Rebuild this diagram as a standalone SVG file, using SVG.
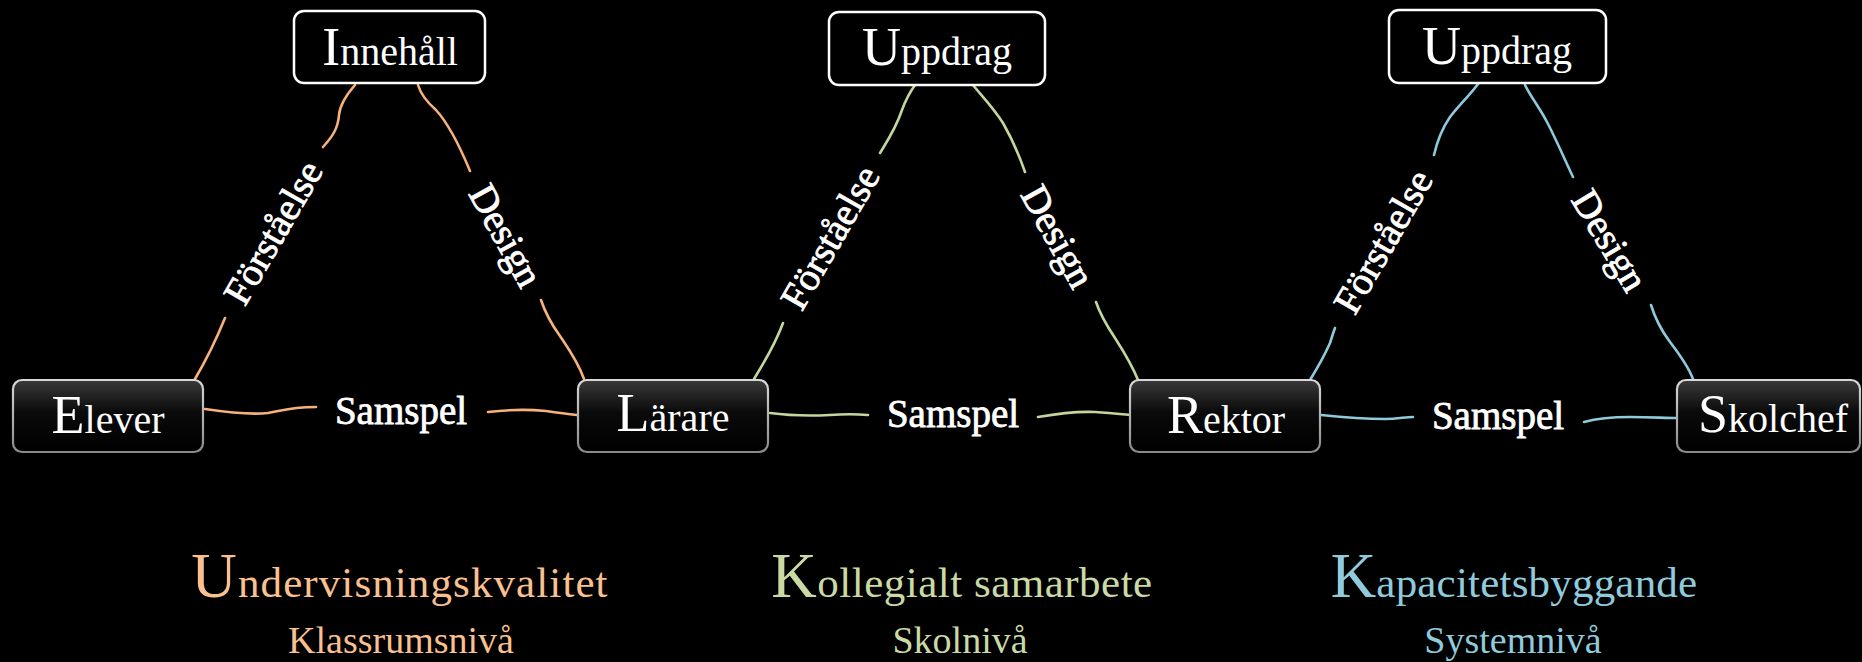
<svg xmlns="http://www.w3.org/2000/svg" width="1862" height="662" viewBox="0 0 1862 662">
<defs>
<linearGradient id="nodeGrad" x1="0" y1="0" x2="0" y2="1">
<stop offset="0" stop-color="#3a3a3a"/>
<stop offset="0.45" stop-color="#0a0a0a"/>
<stop offset="1" stop-color="#000"/>
</linearGradient>
<linearGradient id="strokeGrad" x1="0" y1="0" x2="0" y2="1">
<stop offset="0" stop-color="#d8d8d8"/>
<stop offset="1" stop-color="#8a8a8a"/>
</linearGradient>
</defs>
<style>
.top rect{fill:#000;stroke:#fff;stroke-width:2.5}
.bot rect{fill:url(#nodeGrad);stroke:url(#strokeGrad);stroke-width:2.2}
.nt{font-family:"Liberation Serif",serif;fill:#fff;text-anchor:middle;font-size:40px}
.nt .c{font-size:54px}
.el{font-family:"Liberation Serif",serif;fill:#fff;stroke:#fff;stroke-width:0.8;text-anchor:middle;font-size:39px}
.o{stroke:#F7B27C}
.g{stroke:#C3D69B}
.b{stroke:#8ECADB}
#connectors path{fill:none;stroke-width:2.6;stroke-linecap:round}
.tt{font-family:"Liberation Serif",serif;text-anchor:middle;font-size:43px}
.tt .c{font-size:63px}
.st{font-family:"Liberation Serif",serif;text-anchor:middle;font-size:38px}
.fo{fill:#FAC090}
.fg{fill:#C9DAA4}
.fb{fill:#8FCBDC}
</style>
<rect x="0" y="0" width="1862" height="662" fill="#000"/>
<g id="connectors">
<path class="o" d="M195,379 C205,362 214,345 225,318 M323,147 C333,136 338,128 339,115 C340,103 348,93 355,85"/>
<path class="o" d="M418,85 C421,95 428,103 436,110 C446,121 458,142 470,171 M541,300 C546,315 552,325 560,336 C568,348 578,362 584,379"/>
<path class="o" d="M205,409 C225,412 250,415 268,413 C280,411 290,407 316,407 M488,412 C505,410 525,409 546,411 C560,413 568,414 577,415"/>
<path class="g" d="M754,379 C762,366 775,345 783,323 M880,153 C888,140 896,128 902,110 C906,99 910,92 915,85"/>
<path class="g" d="M973,85 C980,94 993,107 1003,123 C1011,137 1018,152 1025,172 M1096,302 C1100,314 1105,323 1115,338 C1124,352 1132,365 1138,380"/>
<path class="g" d="M770,413 C785,415 810,416 830,415 C845,414 855,414 868,415 M1038,417 C1055,414 1075,411 1095,412 C1110,413 1120,414 1131,415"/>
<path class="b" d="M1310,380 C1318,367 1326,352 1330,343 C1332,337 1333,333 1335,328 M1434,155 C1437,142 1441,130 1450,117 C1460,104 1470,95 1478,84"/>
<path class="b" d="M1525,85 C1531,97 1541,110 1547,122 C1555,137 1564,158 1573,177 M1651,305 C1655,318 1661,330 1670,342 C1680,355 1688,366 1693,379"/>
<path class="b" d="M1321,415 C1340,417 1365,419 1385,419 C1398,419 1405,417 1413,417 M1584,422 C1595,419 1610,417 1630,417 C1650,417 1665,418 1677,418"/>
<text class="el" transform="translate(274,233) rotate(-60)" y="12">Förståelse</text>
<text class="el" transform="translate(505,236) rotate(61)" y="12">Design</text>
<text class="el" x="401" y="424">Samspel</text>
<text class="el" transform="translate(831,238) rotate(-60)" y="12">Förståelse</text>
<text class="el" transform="translate(1057,237) rotate(61)" y="12">Design</text>
<text class="el" x="953" y="427">Samspel</text>
<text class="el" transform="translate(1384,242) rotate(-60)" y="12">Förståelse</text>
<text class="el" transform="translate(1609,241) rotate(59)" y="12">Design</text>
<text class="el" x="1498" y="429">Samspel</text>
</g>
<g id="innehall" class="top"><rect x="294" y="11" width="191" height="72" rx="10"/><text class="nt" x="390" y="65"><tspan class="c">I</tspan>nnehåll</text></g>
<g id="uppdrag1" class="top"><rect x="829" y="12" width="216" height="73" rx="10"/><text class="nt" x="937" y="65"><tspan class="c">U</tspan>ppdrag</text></g>
<g id="uppdrag2" class="top"><rect x="1389" y="10" width="217" height="73" rx="10"/><text class="nt" x="1497" y="64"><tspan class="c">U</tspan>ppdrag</text></g>
<g id="elever" class="bot"><rect x="13" y="380" width="190" height="72" rx="9"/><text class="nt" x="108" y="433"><tspan class="c">E</tspan>lever</text></g>
<g id="larare" class="bot"><rect x="578" y="380" width="190" height="72" rx="9"/><text class="nt" x="673" y="431"><tspan class="c">L</tspan>ärare</text></g>
<g id="rektor" class="bot"><rect x="1130" y="380" width="190" height="72" rx="9"/><text class="nt" x="1226" y="433"><tspan class="c">R</tspan>ektor</text></g>
<g id="skolchef" class="bot"><rect x="1677" y="380" width="183" height="72" rx="9"/><text class="nt" x="1773" y="432"><tspan class="c">S</tspan>kolchef</text></g>
<g id="titles">
<text class="tt fo" x="400" y="597" letter-spacing="1.1"><tspan class="c">U</tspan>ndervisningskvalitet</text>
<text class="st fo" x="401" y="653">Klassrumsnivå</text>
<text class="tt fg" x="962" y="597" letter-spacing="0.5"><tspan class="c">K</tspan>ollegialt samarbete</text>
<text class="st fg" x="960" y="653">Skolnivå</text>
<text class="tt fb" x="1514" y="597" letter-spacing="0.2"><tspan class="c">K</tspan>apacitetsbyggande</text>
<text class="st fb" x="1513" y="653">Systemnivå</text>
</g>
</svg>
